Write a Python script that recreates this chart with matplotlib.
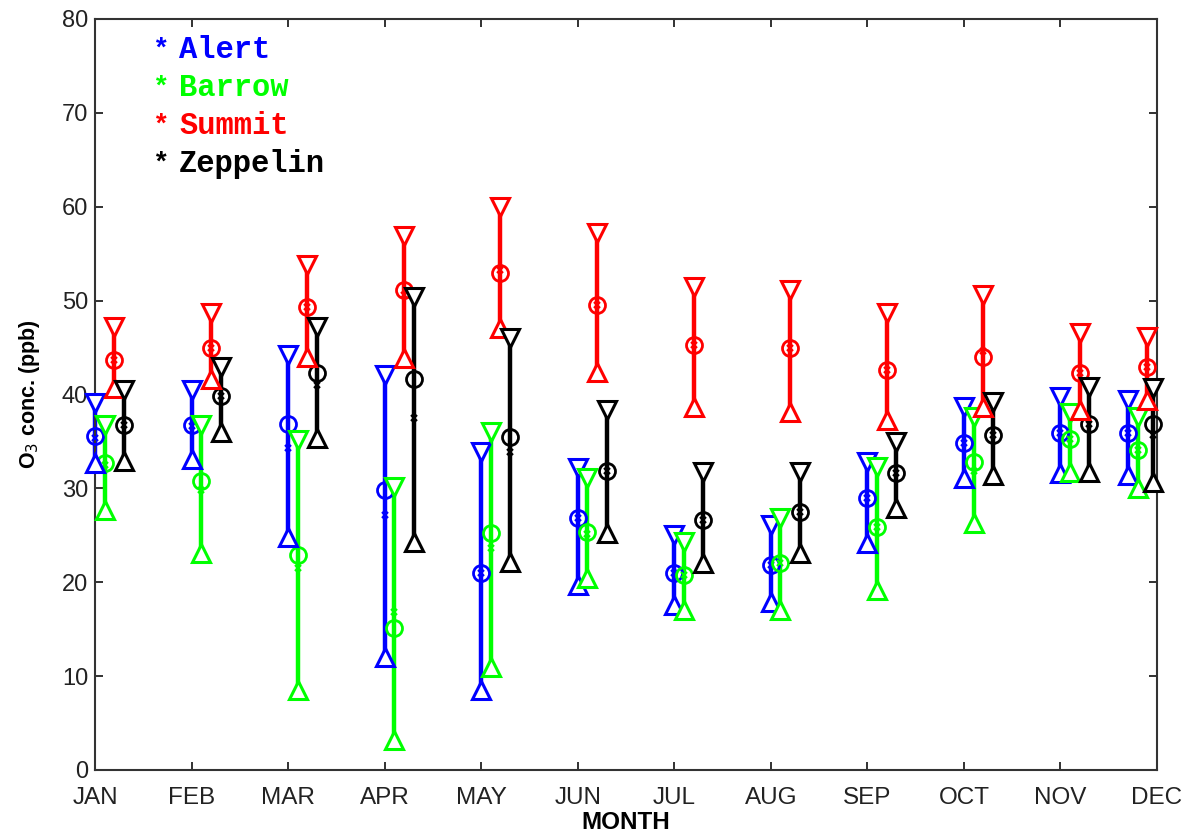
import numpy as np
import matplotlib
matplotlib.use("Agg")
import matplotlib.pyplot as plt

months = ["JAN", "FEB", "MAR", "APR", "MAY", "JUN", "JUL", "AUG", "SEP", "OCT", "NOV", "DEC"]
stations = ["Alert", "Barrow", "Summit", "Zeppelin"]
colors = ["#0000ff", "#00ff00", "#ff0000", "#000000"]

# O3 monthly statistics (ppb): mean, median, lower and upper
alert_mean = [35.6, 36.8, 36.9, 29.8, 21.0, 26.8, 21.0, 21.8, 29.0, 34.8, 35.9, 35.9]
alert_med = [35.4, 36.6, 34.3, 27.2, 21.0, 26.8, 21.0, 21.8, 29.0, 34.8, 35.9, 35.9]
alert_low = [32.7, 33.1, 24.8, 12.0, 8.5, 19.7, 17.6, 17.9, 24.2, 31.1, 31.6, 31.4]
alert_high = [39.1, 40.5, 44.2, 42.1, 33.9, 32.2, 25.0, 26.1, 32.8, 38.7, 39.7, 39.4]

barrow_mean = [32.7, 30.8, 22.9, 15.1, 25.2, 25.3, 20.8, 22.0, 25.9, 32.8, 35.3, 34.1]
barrow_med = [32.5, 29.8, 21.5, 16.8, 23.6, 25.1, 20.8, 22.0, 25.9, 31.9, 35.3, 34.1]
barrow_low = [27.7, 23.1, 8.5, 3.2, 11.0, 20.4, 17.0, 17.0, 19.2, 26.3, 31.7, 30.0]
barrow_high = [36.7, 36.7, 35.1, 30.1, 36.0, 31.1, 24.3, 26.8, 32.3, 37.6, 38.0, 37.6]

summit_mean = [43.7, 45.0, 49.3, 51.1, 52.9, 49.5, 45.3, 45.0, 42.6, 44.0, 42.3, 42.9]
summit_med = [43.7, 45.0, 49.3, 50.6, 53.3, 49.5, 45.3, 45.0, 42.6, 44.6, 42.3, 42.9]
summit_low = [40.7, 41.7, 44.0, 43.9, 47.1, 42.4, 38.7, 38.1, 37.3, 38.7, 38.3, 39.4]
summit_high = [47.2, 48.7, 53.8, 56.9, 60.0, 57.2, 51.4, 51.1, 48.7, 50.6, 46.5, 46.1]

zeppelin_mean = [36.8, 39.8, 42.3, 41.7, 35.5, 31.9, 26.6, 27.5, 31.6, 35.7, 36.9, 36.9]
zeppelin_med = [36.8, 39.8, 41.0, 37.5, 33.9, 31.9, 26.6, 27.5, 31.6, 35.7, 36.9, 35.7]
zeppelin_low = [32.9, 36.0, 35.4, 24.3, 22.2, 25.2, 22.0, 23.1, 27.9, 31.4, 31.7, 30.7]
zeppelin_high = [40.5, 42.9, 47.2, 50.4, 46.0, 38.3, 31.7, 31.7, 34.9, 39.2, 40.8, 40.7]

means = [alert_mean, barrow_mean, summit_mean, zeppelin_mean]
meds = [alert_med, barrow_med, summit_med, zeppelin_med]
lows = [alert_low, barrow_low, summit_low, zeppelin_low]
highs = [alert_high, barrow_high, summit_high, zeppelin_high]

W, H = 1193, 836
fig = plt.figure(figsize=(W / 100, H / 100), dpi=100)
ax = fig.add_axes([95 / W, 1 - 770 / H, (1157 - 95) / W, (770 - 19) / H])

m = np.arange(1, 13, dtype=float)
offsets = [0.0, 0.1, 0.2, 0.3]
dec_shift = [-0.3, -0.3, -0.3, -0.34]

for i in range(4):
    x = m + offsets[i]
    x[-1] = 12 + offsets[i] + dec_shift[i]
    c = colors[i]
    lo = np.array(lows[i]); hi = np.array(highs[i])
    ax.vlines(x, lo, hi, colors=c, linewidth=3.2, zorder=2, clip_on=False)
    ax.plot(x, means[i], linestyle="none", marker="o", ms=11.5, mfc="none",
            mec=c, mew=2.0, zorder=3, clip_on=False)
    ax.plot(x, meds[i], linestyle="none", marker="x", ms=5, mec=c, mew=1.6,
            zorder=3, clip_on=False)
    ax.plot(x, hi, linestyle="none", marker="v", ms=13, mfc="white", mec=c,
            mew=2.2, zorder=4, clip_on=False)
    ax.plot(x, lo, linestyle="none", marker="^", ms=13, mfc="white", mec=c,
            mew=2.2, zorder=4, clip_on=False)

ax.set_xlim(1, 12)
ax.set_ylim(0, 80)
ax.set_xticks(m)
ax.set_xticklabels(months, fontsize=17.5, family="Liberation Sans")
ax.set_yticks(np.arange(0, 81, 10))
ax.set_yticklabels([str(v) for v in range(0, 81, 10)], fontsize=17, family="Liberation Sans")
ax.tick_params(direction="in", length=6, width=1.3, top=True, right=True, colors="#222222")
ax.tick_params(axis="x", pad=12)
ax.tick_params(axis="y", pad=5)
for sp in ax.spines.values():
    sp.set_linewidth(1.5)
    sp.set_color("#333333")

ax.set_xlabel("MONTH", fontsize=17.5, fontweight="bold", family="Liberation Sans", labelpad=2)
ax.set_ylabel(r"O$_3$ conc. (ppb)", fontsize=15.5, fontweight="bold", family="Liberation Sans", labelpad=14)

# legend as coloured text
for i, name in enumerate(stations):
    ypx = 50 + i * 38
    fig.text(152 / W, 1 - ypx / H, "*", color=colors[i], fontsize=20, fontweight="bold",
             family="Liberation Mono", ha="left", va="center")
    fig.text(179 / W, 1 - ypx / H, name, color=colors[i], fontsize=22, fontweight="bold",
             family="Liberation Mono", ha="left", va="center")

fig.savefig("out.png", dpi=100)
